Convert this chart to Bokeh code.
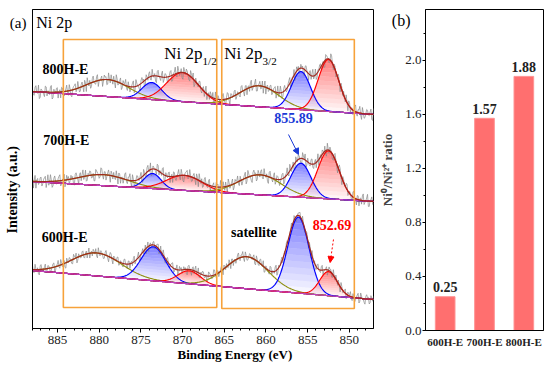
import numpy as np
from bokeh.plotting import figure
from bokeh.layouts import row
from bokeh.models import (Range1d, FactorRange, Label, Arrow, NormalHead, LinearAxis, Title,
                          FixedTicker, SingleIntervalTicker, PrintfTickFormatter)
from bokeh.core.properties import value
from bokeh.embed import file_html
from bokeh.resources import INLINE

SERIF = "Liberation Serif"

# ---------------- data: panel (a) Ni 2p XPS ----------------
energy_start, energy_end = 888.0, 847.1
sample_names = ["800H-E", "700H-E", "600H-E"]
baseline_left = [237, 147, 58]
baseline_right = [214, 127, 29]
peak_kind = ["sat", "ni2", "ni0", "sat", "ni2", "ni0"]
centers_800 = [879.0, 873.7, 870.0, 860.8, 855.8, 852.5]
heights_800 = [17, 17, 29, 21, 38, 52]
fwhm_800 = [6.0, 2.8, 4.5, 5.5, 2.7, 2.9]
centers_700 = [879.5, 873.6, 869.8, 860.7, 855.8, 852.5]
heights_700 = [11, 15, 15, 20, 34, 48]
fwhm_700 = [7.0, 2.4, 5.0, 6.0, 2.8, 3.0]
centers_600 = [880.3, 873.5, 869.2, 862.3, 856.1, 852.5]
heights_600 = [23, 34, 13, 32, 76, 24]
fwhm_600 = [7.0, 3.5, 3.2, 6.0, 3.0, 2.5]
noise_scale = [7.5, 7.5, 6.0]
noise_shift = [0, 131, 263]
noise_a = [0.3, -0.5, 0.8, -0.2, -0.9, 0.4, 0.1, -0.6, 0.7, 0.2, -0.3, 0.9, -0.7, 0.0, 0.5, -0.8, 0.3, 0.6, -0.4, -0.1,
           0.8, -0.6, 0.2, -0.9, 0.4, 0.7, -0.2, 0.1, -0.5, 0.6, -0.8, 0.3, 0.9, -0.3, -0.7, 0.5, 0.0, -0.4, 0.8, -0.1,
           0.2, -0.9, 0.6, 0.4, -0.6, 0.1, 0.7, -0.5, -0.2, 0.9, -0.4, 0.3, -0.8, 0.5, 0.2, -0.3, 0.6, -0.7, 0.1, 0.8,
           -0.5, 0.4, -0.1, -0.9, 0.7, 0.3, -0.6, 0.2, 0.5, -0.4, 0.9, -0.2, -0.7, 0.6, 0.0, -0.5, 0.8, -0.3, 0.4, -0.8,
           0.1, 0.7, -0.6, 0.3, -0.2, 0.9, -0.4, 0.5, -0.9, 0.2, 0.6, -0.1, -0.7, 0.4, 0.8, -0.5, 0.0, -0.3, 0.7, -0.6,
           0.5, 0.1, -0.8, 0.3, 0.6, -0.2, -0.5, 0.9, -0.4, 0.2, -0.7, 0.4, 0.1, -0.9, 0.8, -0.3, 0.5, -0.1, 0.6, -0.6,
           0.3, -0.4, 0.7, 0.0, -0.8, 0.5, 0.2, -0.5, 0.9, -0.2, 0.4, -0.7, 0.1, 0.6, -0.3, -0.9, 0.8, 0.2, -0.4, 0.5,
           -0.6, 0.3, 0.7, -0.1, -0.5, 0.9, -0.8, 0.4, 0.0, -0.3, 0.6, -0.7, 0.2, 0.8, -0.4, 0.1, -0.6, 0.5, 0.3, -0.9,
           0.7, -0.2, 0.4, -0.5, 0.9, -0.1, -0.7, 0.3, 0.6, -0.4, 0.2, -0.8, 0.5, 0.1, -0.3, 0.8, -0.6, 0.4, -0.2, 0.7,
           -0.9, 0.3, 0.5, -0.4, 0.1, 0.6, -0.7, 0.2, -0.1, 0.9, -0.5, 0.4, -0.3, 0.8, -0.6, 0.0, 0.5, -0.2, 0.7, -0.8]
noise_b = [-0.4, 0.6, -0.1, 0.9, -0.7, 0.2, -0.3, 0.8, -0.5, 0.1, 0.7, -0.9, 0.4, -0.2, 0.6, 0.0, -0.8, 0.5, -0.6, 0.3,
           -0.2, 0.8, -0.7, 0.1, 0.5, -0.4, 0.9, -0.6, 0.3, -0.1, 0.7, -0.9, 0.2, 0.4, -0.5, 0.8, -0.3, 0.6, -0.8, 0.0,
           0.5, -0.2, 0.3, -0.7, 0.9, -0.4, 0.1, 0.6, -0.9, 0.4, -0.1, 0.7, -0.5, 0.2, 0.8, -0.6, 0.0, -0.3, 0.5, -0.8,
           0.9, -0.1, -0.6, 0.4, 0.2, -0.8, 0.6, -0.3, 0.7, -0.5, 0.1, 0.3, -0.9, 0.8, -0.2, 0.4, -0.7, 0.5, 0.0, -0.4,
           0.6, -0.8, 0.2, 0.9, -0.5, 0.3, -0.1, -0.7, 0.7, -0.2, 0.4, -0.6, 0.8, 0.1, -0.9, 0.5, -0.3, 0.6, -0.4, 0.2,
           -0.7, 0.9, 0.0, -0.5, 0.3, 0.7, -0.8, 0.1, 0.5, -0.2, -0.6, 0.8, -0.4, 0.2, 0.6, -0.9, 0.4, -0.1, 0.7, -0.3,
           0.1, -0.6, 0.8, -0.2, 0.5, -0.8, 0.3, 0.6, -0.5, 0.0, 0.9, -0.7, 0.2, -0.4, 0.7, 0.1, -0.9, 0.4, -0.2, 0.6,
           -0.3, 0.5, -0.8, 0.9, -0.1, 0.2, -0.6, 0.7, -0.4, 0.3, 0.8, -0.5, 0.0, -0.9, 0.6, 0.4, -0.2, 0.1, -0.7, 0.5,
           0.2, -0.9, 0.6, 0.3, -0.4, 0.8, -0.6, 0.1, 0.5, -0.3, -0.8, 0.7, 0.2, -0.5, 0.9, -0.1, 0.4, -0.7, 0.3, 0.0,
           0.6, -0.4, -0.2, 0.8, -0.9, 0.5, 0.1, -0.6, 0.7, -0.3, 0.4, 0.9, -0.8, 0.2, -0.5, 0.6, -0.1, 0.3, -0.7, 0.8]

box_left = [884.3, 865.3]
box_right = [865.9, 849.4]
box_bottom = [21, 20]
box_top = [289, 289]

# ---------------- data: panel (b) ratio ----------------
categories = ["600H-E", "700H-E", "800H-E"]
ratios = [0.25, 1.57, 1.88]
ratio_text = ["0.25", "1.57", "1.88"]

# ---------------- helpers ----------------
def gauss(x, c, h, w):
    return h * np.exp(-4.0 * np.log(2.0) * (x - c) ** 2 / w ** 2)


def gradient_fill(p, x, base, g, color, top_alpha=0.62, n=12):
    H = g.max()
    for k in range(n):
        lo = np.minimum(g, H * k / n)
        hi = np.minimum(g, H * (k + 1) / n)
        p.varea(x=x, y1=base + lo, y2=base + hi, fill_color=color,
                fill_alpha=top_alpha * (k + 1) / n)


# ---------------- panel (a) ----------------
p1 = figure(width=376, frame_height=319, x_range=Range1d(energy_start, energy_end),
            y_range=Range1d(0, 319), output_backend="svg", toolbar_location=None,
            min_border_left=32, min_border_right=3, min_border_top=8, min_border_bottom=0)
p1.grid.visible = False
p1.outline_line_color = "black"
p1.outline_line_width = 1

m = min(len(noise_a), len(noise_b))
noise = np.column_stack([noise_a[:m], noise_b[:m]]).ravel()
x_raw = np.linspace(energy_start, energy_end, len(noise))
x_fit = np.linspace(energy_start, energy_end, 700)
all_params = [(centers_800, heights_800, fwhm_800),
              (centers_700, heights_700, fwhm_700),
              (centers_600, heights_600, fwhm_600)]

line_col = {"sat": "#8f8f10", "ni2": "#0000ff", "ni0": "#ff0000"}
fill_col = {"ni2": "#3333ff", "ni0": "#ff3333"}

for i, name in enumerate(sample_names):
    cs, hs, ws = all_params[i]
    base_fit = np.linspace(baseline_left[i], baseline_right[i], len(x_fit))
    base_raw = np.linspace(baseline_left[i], baseline_right[i], len(x_raw))
    env_fit = base_fit.copy()
    env_raw = base_raw.copy()
    comps = []
    for kind, c, h, w in zip(peak_kind, cs, hs, ws):
        g = gauss(x_fit, c, h, w)
        comps.append((kind, g))
        env_fit = env_fit + g
        env_raw = env_raw + gauss(x_raw, c, h, w)
    raw = env_raw + np.roll(noise, noise_shift[i]) * noise_scale[i]
    for kind, g in comps:
        if kind in fill_col:
            gradient_fill(p1, x_fit, base_fit, g, fill_col[kind])
    p1.line(x_raw, raw, line_color="#8a8a8a", line_width=0.7)
    for kind, g in comps:
        p1.line(x_fit, base_fit + g, line_color=line_col[kind], line_width=1.2)
    p1.line(x_fit, base_fit, line_color="#c040c0", line_width=1.2)
    p1.line(x_fit, env_fit, line_color="#a0281e", line_width=1.2)

p1.quad(left=box_left, right=box_right, bottom=box_bottom, top=box_top,
        fill_alpha=0, line_color="#f7a23a", line_width=1.6)

p1.xaxis.ticker = SingleIntervalTicker(interval=5, num_minor_ticks=5)
p1.xaxis.major_tick_in = 0
p1.xaxis.major_tick_out = 4
p1.xaxis.minor_tick_in = 0
p1.xaxis.minor_tick_out = 2
p1.xaxis.major_label_text_font = SERIF
p1.xaxis.major_label_text_font_size = "13px"
p1.xaxis.major_label_text_color = "#222222"
p1.xaxis.major_label_standoff = 3

# y axis of (a): no ticks, the panel letter rides on a single tick label
p1.yaxis.ticker = FixedTicker(ticks=[306])
p1.yaxis.formatter = PrintfTickFormatter(format="(a)")
p1.yaxis.major_tick_line_color = None
p1.yaxis.minor_tick_line_color = None
p1.yaxis.major_tick_out = 0
p1.yaxis.major_tick_in = 0
p1.yaxis.major_label_standoff = 6
p1.yaxis.major_label_text_font = SERIF
p1.yaxis.major_label_text_font_size = "15px"
p1.yaxis.major_label_text_color = "black"
p1.axis.axis_line_color = "black"

# axis titles as plot titles so they can sit off-centre like the original
p1.add_layout(Title(text="Binding Energy (eV)", align="left", offset=145, standoff=0,
                    vertical_align="top",
                    text_font=SERIF, text_font_size="13px", text_font_style="bold",
                    text_color="black"), "below")
p1.add_layout(Title(text="Intensity (a.u.)", align="left", offset=95, standoff=-26,
                    text_font=SERIF, text_font_size="14px", text_font_style="bold",
                    text_color="black"), "left")


def add_label(p, x, y, text, size, color="black", style="normal", align="left"):
    p.add_layout(Label(x=x, y=y, text=text, text_font=SERIF, text_font_size=size,
                       text_color=color, text_font_style=style, text_align=align,
                       text_baseline="middle"))


add_label(p1, 887.55, 306, "Ni 2p", "16px")
add_label(p1, 872.2, 275, "Ni 2p", "17px")
add_label(p1, 867.6, 268, "1/2", "11px")
add_label(p1, 865.0, 275, "Ni 2p", "17px")
add_label(p1, 860.4, 268, "3/2", "11px")
add_label(p1, 886.8, 259, "800H-E", "14px", style="bold")
add_label(p1, 886.7, 188, "700H-E", "14px", style="bold")
add_label(p1, 886.9, 91, "600H-E", "14px", style="bold")
add_label(p1, 859.0, 211, "855.89", "14px", color="#1a3ad6", style="bold")
add_label(p1, 864.2, 96, "satellite", "14px", style="bold")
add_label(p1, 854.4, 104, "852.69", "14px", color="#ff0000", style="bold")

p1.add_layout(Arrow(end=NormalHead(size=6, fill_color="#1a3ad6", line_color="#1a3ad6"),
                    x_start=857.3, y_start=194, x_end=856.1, y_end=174,
                    line_color="#1a3ad6", line_width=1))
p1.add_layout(Arrow(end=NormalHead(size=6, fill_color="#ff0000", line_color="#ff0000"),
                    x_start=851.9, y_start=89, x_end=852.3, y_end=66,
                    line_color="#ff0000", line_width=1, line_dash="2 2"))

# ---------------- panel (b) ----------------
p2 = figure(width=168, frame_height=321, x_range=FactorRange(factors=categories, range_padding=0),
            y_range=Range1d(0, 2.375), output_backend="svg", toolbar_location=None,
            min_border_left=48, min_border_right=1, min_border_top=9, min_border_bottom=0)
p2.grid.visible = False
p2.outline_line_color = "black"
p2.outline_line_width = 1
p2.vbar(x=categories, top=ratios, width=0.5, fill_color="#ff6f6f", line_color="#ff9494",
        line_width=1)
p2.text(x=categories, y=[r + 0.035 for r in ratios], text=ratio_text,
        text_font=value(SERIF), text_font_size="14px", text_font_style="bold",
        text_align="center", text_baseline="bottom", text_color="#222222")

p2.yaxis.ticker = SingleIntervalTicker(interval=0.4, num_minor_ticks=2)
p2.yaxis.formatter = PrintfTickFormatter(format="%.1f")
p2.yaxis.major_tick_in = 0
p2.yaxis.major_tick_out = 3
p2.yaxis.minor_tick_in = 0
p2.yaxis.minor_tick_out = 2
p2.yaxis.major_label_standoff = 1
p2.yaxis.major_label_text_font = SERIF
p2.yaxis.major_label_text_font_size = "13px"
p2.yaxis.major_label_text_color = "#222222"
p2.xaxis.major_tick_line_color = None
p2.xaxis.minor_tick_line_color = None
p2.xaxis.major_tick_out = 0
p2.xaxis.major_label_standoff = 5
p2.xaxis.major_label_text_font = SERIF
p2.xaxis.major_label_text_font_size = "11px"
p2.xaxis.major_label_text_font_style = "bold"
p2.xaxis.major_label_text_color = "#222222"
p2.axis.axis_line_color = "black"

# outer left axis of (b): carries the panel letter and the axis title
outer = LinearAxis(ticker=FixedTicker(ticks=[2.29]), formatter=PrintfTickFormatter(format="(b)"),
                   axis_line_color=None, major_tick_line_color=None, minor_tick_line_color=None,
                   major_tick_out=0, major_tick_in=0, major_label_standoff=-8,
                   major_label_text_font=SERIF, major_label_text_font_size="16px",
                   major_label_text_color="black",
                   axis_label="Ni\u2070/Ni\u00b2\u207a ratio", axis_label_text_font=SERIF,
                   axis_label_text_font_size="13px", axis_label_text_font_style="bold",
                   axis_label_standoff=-6)
p2.add_layout(outer, "left")

layout = row(p1, p2)
open("out.html", "w").write(file_html(layout, INLINE))
